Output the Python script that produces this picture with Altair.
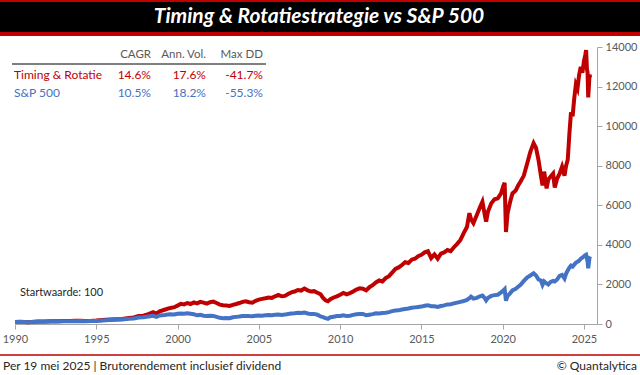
import altair as alt
import pandas as pd

# ---------------- data ----------------
years = [
    1990.0, 1990.3, 1990.6, 1990.8, 1991.0, 1991.4, 1991.8, 1992.2, 1992.6, 1993.0,
    1993.4, 1993.7, 1994.0, 1994.3, 1994.7, 1995.0, 1995.4, 1995.8, 1996.2, 1996.6,
    1997.0, 1997.3, 1997.6, 1997.9, 1998.2, 1998.5, 1998.7, 1998.9, 1999.2, 1999.5,
    1999.8, 2000.0, 2000.2, 2000.4, 2000.6, 2000.8, 2001.0, 2001.2, 2001.4, 2001.6,
    2001.8, 2002.0, 2002.2, 2002.4, 2002.6, 2002.8, 2003.0, 2003.2, 2003.4, 2003.6,
    2003.8, 2004.0, 2004.2, 2004.4, 2004.6, 2004.8, 2005.0, 2005.2, 2005.4, 2005.6,
    2005.8, 2006.0, 2006.2, 2006.4, 2006.6, 2006.8, 2007.0, 2007.2, 2007.4, 2007.6,
    2007.8, 2008.0, 2008.2, 2008.4, 2008.6, 2008.8, 2008.95, 2009.1, 2009.25, 2009.4,
    2009.6, 2009.8, 2010.0, 2010.2, 2010.4, 2010.6, 2010.8, 2011.0, 2011.2, 2011.4,
    2011.6, 2011.8, 2012.0, 2012.2, 2012.4, 2012.6, 2012.8, 2013.0, 2013.2, 2013.4,
    2013.6, 2013.8, 2014.0, 2014.2, 2014.4, 2014.6, 2014.8, 2015.0, 2015.2, 2015.4,
    2015.6, 2015.8, 2016.0, 2016.2, 2016.4, 2016.6, 2016.8, 2017.0, 2017.2, 2017.4,
    2017.6, 2017.8, 2017.95, 2018.05, 2018.2, 2018.4, 2018.6, 2018.75, 2018.9, 2018.98,
    2019.1, 2019.3, 2019.5, 2019.7, 2019.9, 2020.05, 2020.12, 2020.2, 2020.3, 2020.45,
    2020.6, 2020.8, 2020.95, 2021.1, 2021.3, 2021.5, 2021.7, 2021.9, 2022.05, 2022.2,
    2022.35, 2022.45, 2022.55, 2022.7, 2022.8, 2022.95, 2023.1, 2023.2, 2023.35, 2023.5,
    2023.65, 2023.8, 2023.9, 2024.0, 2024.1, 2024.2, 2024.3, 2024.4, 2024.5, 2024.6,
    2024.7, 2024.8, 2024.9, 2025.0, 2025.08, 2025.13, 2025.18, 2025.22, 2025.26, 2025.3,
    2025.34, 2025.38,
]

timing_values = [
    100, 108, 102, 94, 104, 122, 128, 136, 138, 148,
    155, 162, 166, 156, 162, 172, 200, 225, 245, 255,
    300, 330, 400, 420, 500, 600, 520, 640, 720, 800,
    850, 930, 1020, 990, 1060, 1010, 1090, 1040, 1120, 1080,
    1030, 1100, 1130, 1060, 980, 950, 930, 910, 970, 1010,
    1060, 1120, 1150, 1100, 1080, 1170, 1230, 1270, 1300, 1340,
    1320, 1400, 1470, 1400, 1420, 1520, 1600, 1640, 1720, 1690,
    1790, 1700, 1640, 1660, 1580, 1500, 1320, 1200, 1150, 1250,
    1340, 1400, 1480, 1570, 1500, 1560, 1640, 1740, 1800, 1780,
    1700, 1860, 1960, 2100, 2200, 2150, 2320, 2420, 2600, 2780,
    2860, 2980, 3120, 3080, 3250, 3300, 3430, 3500, 3620, 3680,
    3330, 3520, 3300, 3560, 3620, 3740, 3680, 3880, 4050, 4250,
    4590, 4900, 5600, 5300, 5100, 5500, 5900, 6180, 5500, 5170,
    5700, 6100, 6300, 6350, 6600, 7000, 7130, 4650, 5600, 6150,
    6600, 6750, 7000, 7200, 7500, 8100, 8700, 9140, 8900, 8300,
    7500, 7000, 7700, 6850, 7300, 7450, 7600, 6900, 7350, 7600,
    7950, 7500, 8000, 8300, 9600, 10700, 10500, 11400, 12100, 11900,
    12600, 13000, 12700, 13300, 13600, 13850, 12900, 12700, 11450, 12000,
    12600, 12450,
]

sp500_values = [
    100, 104, 98, 88, 98, 112, 118, 126, 128, 136,
    140, 144, 150, 140, 146, 155, 180, 205, 220, 225,
    262, 275, 330, 340, 375, 415, 360, 430, 455, 495,
    480, 520, 535, 515, 540, 520, 490, 440, 460, 420,
    400, 420, 410, 360, 310, 295, 300, 290, 340, 360,
    380, 405, 410, 400, 395, 420, 430, 420, 440, 450,
    445, 465, 480, 460, 475, 505, 525, 540, 570, 560,
    585, 530, 500, 510, 470, 380, 350, 300, 265, 340,
    370, 400, 410, 440, 400, 420, 460, 490, 510, 505,
    440, 470, 500, 540, 530, 560, 570, 600, 650, 680,
    690, 730, 760, 780, 820, 840, 860, 880, 920, 950,
    900, 900, 860, 910, 940, 990, 1000, 1040, 1080, 1120,
    1160, 1220, 1300, 1380, 1280, 1320, 1400, 1440, 1300, 1190,
    1330, 1420, 1460, 1480, 1600, 1700, 1760, 1180, 1420, 1550,
    1700, 1780, 1880, 1980, 2180, 2350, 2450, 2560, 2450, 2250,
    2200, 1980, 2150, 2050, 2000, 2130, 2180, 2150, 2250, 2430,
    2480, 2300, 2550, 2700, 2850, 2950, 2900, 3000, 3100, 3150,
    3200, 3300, 3350, 3420, 3480, 3500, 3300, 3150, 2820, 3100,
    3350, 3420,
]

series_names = ["Timing & Rotatie", "S&P 500"]
series_colors = ["#c00000", "#4472c4"]
stat_headers = ["CAGR", "Ann. Vol.", "Max DD"]
timing_stats = ["14.6%", "17.6%", "-41.7%"]
sp500_stats = ["10.5%", "18.2%", "-55.3%"]
x_ticks = [1990, 1995, 2000, 2005, 2010, 2015, 2020, 2025]
y_ticks = [0, 2000, 4000, 6000, 8000, 10000, 12000, 14000]

title_text = "Timing & Rotatiestrategie vs S&P 500"
start_note = "Startwaarde: 100"
footer_left = "Per 19 mei 2025 | Brutorendement inclusief dividend"
footer_right = "\u00a9 Quantalytica"

# ---------------- layout ----------------
PL, PT, PR, PB = 15, 47, 43, 51
W, H = 640 - PL - PR, 375 - PT - PB
FONT = "Lato"
AXIS_GREY = "#a6a6a6"
LABEL_GREY = "#595959"

df_t = pd.DataFrame({"year": years, "value": timing_values, "series": series_names[0]})
df_s = pd.DataFrame({"year": years, "value": sp500_values, "series": series_names[1]})


def x_enc():
    return alt.X(
        "year:Q",
        scale=alt.Scale(domain=[1990, 2025.8], nice=False, zero=False),
        axis=alt.Axis(values=x_ticks, format="d", title=None, grid=False,
                      labelFont=FONT, labelFontSize=11, labelColor=LABEL_GREY,
                      domainColor=AXIS_GREY, tickColor=AXIS_GREY, tickSize=5,
                      labelPadding=4, labelFlush=False, labelOverlap=False),
    )


def y_enc():
    return alt.Y(
        "value:Q",
        scale=alt.Scale(domain=[0, 14000], nice=False),
        axis=alt.Axis(orient="right", values=y_ticks, format="d", title=None, grid=False,
                      labelFont=FONT, labelFontSize=11, labelColor=LABEL_GREY,
                      domainColor=AXIS_GREY, tickColor=AXIS_GREY, tickSize=5,
                      labelPadding=3, labelOverlap=False, labelFlush=False,
                      labelBound=False),
    )


red_line = alt.Chart(df_t).mark_line(color=series_colors[0], strokeWidth=4).encode(x=x_enc(), y=y_enc())
blue_line = alt.Chart(df_s).mark_line(color=series_colors[1], strokeWidth=4).encode(x=x_enc(), y=y_enc())


def one():
    return pd.DataFrame({"k": [0]})


def rect(x1, x2, y1, y2, color):
    return alt.Chart(one()).mark_rect(color=color).encode(
        x=alt.value(x1 - PL), x2=alt.value(x2 - PL),
        y=alt.value(y1 - PT), y2=alt.value(y2 - PT))


def rule(x1, x2, y, color, width):
    return alt.Chart(one()).mark_rule(color=color, strokeWidth=width).encode(
        x=alt.value(x1 - PL), x2=alt.value(x2 - PL), y=alt.value(y - PT))


def txt(s, x, y, color, size, align="left", weight="normal", style="normal"):
    return alt.Chart(pd.DataFrame({"t": [s]})).mark_text(
        align=align, baseline="middle", color=color, fontSize=size,
        fontWeight=weight, fontStyle=style, font=FONT).encode(
        x=alt.value(x - PL), y=alt.value(y - PT), text="t:N")


layers = [
    rect(0, 640, 0, 36, "#c00000"),
    rect(0, 640, 2, 32, "#000000"),
    txt(title_text, 319, 17, "#ffffff", 21, align="center", weight="bold", style="italic"),
    red_line,
    blue_line,
]

# stats table
col_right = [151, 206, 263]
for h, xr in zip(stat_headers, col_right):
    layers.append(txt(h, xr, 55, LABEL_GREY, 11.5, align="right"))
layers.append(rule(12, 266, 64, "#000000", 1))
layers.append(txt(series_names[0], 14, 75, series_colors[0], 12))
layers.append(txt(series_names[1], 14, 93, series_colors[1], 12))
for v, xr in zip(timing_stats, col_right):
    layers.append(txt(v, xr, 75, series_colors[0], 12, align="right"))
for v, xr in zip(sp500_stats, col_right):
    layers.append(txt(v, xr, 93, series_colors[1], 12, align="right"))

layers.append(txt(start_note, 20, 293, "#262626", 11))
layers.append(rule(0, 640, 355, "#c00000", 1.5))
layers.append(txt(footer_left, 3, 366, "#262626", 12))
layers.append(txt(footer_right, 637, 366, "#262626", 12, align="right"))

chart = alt.layer(*layers).properties(
    width=W, height=H,
    autosize=alt.AutoSizeParams(type="none"),
    padding={"left": PL, "top": PT, "right": PR, "bottom": PB},
    background="#ffffff",
).configure_view(stroke=None).configure_axis(labelOverlap=False)

chart.save("out.html", embed_options={"renderer": "svg", "actions": False})
